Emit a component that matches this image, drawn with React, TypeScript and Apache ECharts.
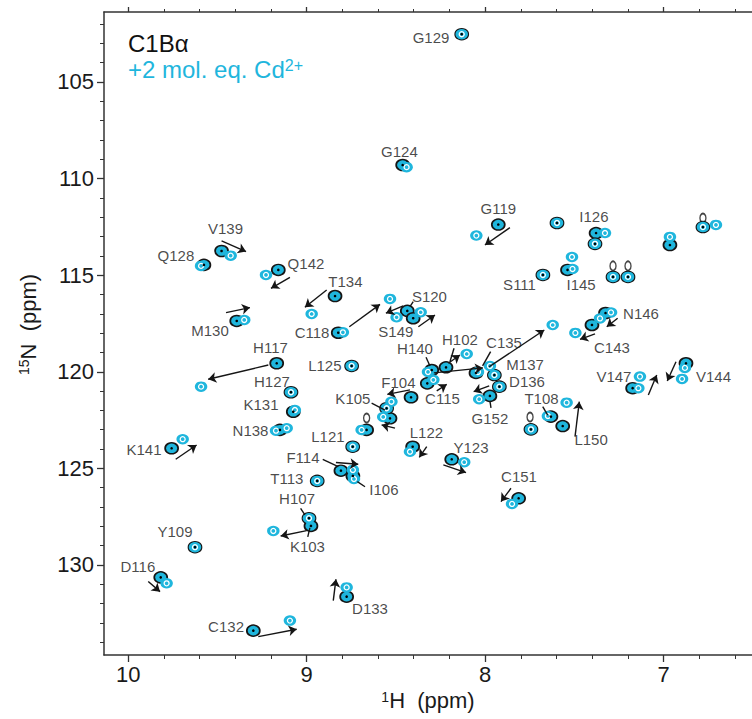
import React, { useEffect, useRef } from 'react';
import * as echarts from 'echarts';

// ---- axes ----
const X_RANGE = [6.504, 10.136];
const Y_RANGE = [101.38, 134.66];
const X_TICKS = [7, 8, 9, 10];
const Y_TICKS = [105, 110, 115, 120, 125, 130];

// ---- assigned peaks: free (black) and +Cd2+ (cyan) ----
const PEAK_NAMES = [
  'G129', 'G124', 'G119', 'I126', 'S111', 'I145', 'N146', 'C143', 'S120', 'S149',
  'H102', 'C135', 'H140', 'M137', 'D136', 'F104', 'C115', 'K105', 'G152', 'T108',
  'L150', 'V147', 'V144', 'V139', 'Q128', 'Q142', 'T134', 'M130', 'C118', 'H117',
  'L125', 'H127', 'K131', 'N138', 'K141', 'L121', 'L122', 'Y123', 'F114', 'I106',
  'T113', 'H107', 'K103', 'Y109', 'D116', 'C132', 'D133', 'C151',
  '', '', '', '', '', '', '', '', '',
];
const FREE_H = [
  8.131, 8.462, 7.926, 7.378, 7.676, 7.538, 7.325, 7.401, 8.436, 8.403,
  8.219, 8.051, 8.299, 7.948, 7.920, 8.415, 8.324, 8.533, 7.973, 7.631,
  7.565, 7.173, 6.874, 9.477, 9.576, 9.159, 8.841, 9.392, 8.823, 9.168,
  8.748, 9.088, 9.075, 9.150, 9.757, 8.742, 8.406, 8.187, 8.808, 8.741,
  8.941, 8.987, 8.976, 9.626, 9.818, 9.299, 8.776, 7.812,
  7.597, 7.384, 7.283, 7.199, 6.964, 6.779, 7.743, 8.664, 8.552,
];
const FREE_N = [
  102.53, 109.30, 112.38, 112.82, 114.99, 114.73, 116.96, 117.58, 116.85, 117.23,
  119.77, 120.06, 119.91, 120.17, 120.77, 121.32, 120.60, 122.41, 121.25, 122.32,
  122.81, 120.85, 119.56, 113.75, 114.47, 114.73, 116.08, 117.37, 117.98, 119.56,
  119.70, 121.06, 122.07, 123.01, 123.96, 123.88, 123.88, 124.53, 125.12, 125.39,
  125.65, 127.58, 127.98, 129.08, 130.64, 133.40, 131.64, 126.55,
  112.30, 113.38, 115.09, 115.09, 113.44, 112.51, 122.98, 123.01, 121.89,
];
const CD_H = [
  8.131, 8.440, 8.049, 7.328, 7.676, 7.510, 7.356, 7.494, 8.496, 8.361,
  8.103, 7.621, 7.973, 7.948, 7.920, 8.525, 8.290, 8.571, 8.033, 7.648,
  7.543, 7.132, 6.896, 9.426, 9.592, 9.228, 8.972, 9.350, 8.533, 9.592,
  8.748, 9.088, 9.066, 9.112, 9.695, 8.742, 8.421, 8.117, 8.741, 8.735,
  8.941, 8.987, 9.187, 9.626, 9.785, 9.094, 8.776, 7.849,
  7.597, 7.384, 7.283, 7.199, 6.964, 6.779, 7.743, 8.692, 8.552,
];
const CD_N = [
  102.53, 109.41, 112.95, 112.82, 114.99, 114.68, 117.24, 117.99, 117.18, 116.92,
  119.08, 117.58, 119.70, 120.17, 120.77, 121.55, 120.42, 122.34, 121.42, 122.29,
  121.60, 120.25, 120.37, 113.99, 114.52, 114.99, 117.01, 117.32, 116.23, 120.77,
  119.70, 121.06, 121.98, 122.92, 123.49, 123.88, 124.14, 124.68, 125.08, 125.55,
  125.65, 127.58, 128.24, 129.08, 130.95, 132.88, 131.16, 126.84,
  112.30, 113.38, 115.09, 115.09, 113.02, 112.51, 122.98, 123.01, 121.89,
];

// additional unassigned contours
const EXTRA_CD_H = [6.706, 7.513, 8.797, 8.320, 8.040, 9.172, 7.294, 7.141, 6.880];
const EXTRA_CD_N = [112.40, 114.06, 117.96, 120.01, 120.01, 123.05, 116.93, 120.85, 119.80];
const EXTRA_FREE_H = [7.283, 7.199, 6.779, 7.748, 8.664];
const EXTRA_FREE_N = [114.52, 114.52, 112.04, 122.34, 122.39];

// label anchors (ppm) for the assigned peaks, same order as PEAK_NAMES
const LABEL_H = [
  8.303, 8.480, 7.926, 7.390, 7.807, 7.462, 7.126, 7.289, 8.312, 8.500,
  8.141, 7.894, 8.393, 7.776, 7.765, 8.486, 8.239, 8.741, 7.973, 7.684,
  7.406, 7.278, 6.720, 9.455, 9.733, 9.004, 8.783, 9.542, 8.970, 9.203,
  8.898, 9.195, 9.256, 9.315, 9.912, 8.881, 8.329, 8.079, 9.021, 8.567,
  9.111, 9.054, 8.996, 9.738, 9.946, 9.452, 8.645, 7.810,
];
const LABEL_N = [
  102.72, 108.62, 111.55, 111.94, 115.48, 115.46, 116.96, 118.72, 116.13, 117.94,
  118.33, 118.46, 118.82, 119.65, 120.50, 120.55, 121.38, 121.37, 122.42, 121.38,
  123.53, 120.27, 120.27, 112.58, 113.99, 114.38, 115.34, 117.86, 117.98, 118.77,
  119.70, 120.53, 121.72, 123.05, 124.00, 123.36, 123.15, 123.92, 124.46, 126.12,
  125.50, 126.58, 129.07, 128.29, 130.10, 133.16, 132.23, 125.44,
];

// shift arrows [fromH, fromN, toH, toN]
const ARROWS: number[][] = [
  [9.477, 113.23, 9.340, 113.78], // V139
  [9.094, 115.11, 9.200, 115.68], // Q142
  [8.888, 115.77, 9.010, 116.66], // T134
  [9.452, 116.94, 9.318, 116.68], // M130
  [8.761, 117.67, 8.589, 116.51], // C118
  [8.459, 116.59, 8.556, 116.97], // S120
  [8.374, 117.67, 8.281, 117.06], // S149
  [9.215, 119.65, 9.552, 120.39], // H117
  [9.734, 124.53, 9.617, 123.79], // K141
  [7.861, 112.54, 8.001, 113.44], // G119
  [8.287, 120.06, 8.012, 119.80], // H140
  [7.978, 119.75, 7.668, 117.84], // C135
  [8.206, 119.56, 8.141, 119.13], // H102
  [8.271, 120.99, 8.215, 120.65], // C115
  [8.421, 120.94, 8.548, 121.17], // F104
  [7.977, 120.73, 8.064, 121.03], // G152
  [8.505, 122.92, 8.580, 122.75], // K105
  [8.327, 123.88, 8.369, 124.43], // L122
  [8.234, 124.82, 8.107, 125.22], // Y123
  [8.836, 124.70, 8.711, 124.79], // F114
  [9.000, 128.22, 9.146, 128.50], // K103
  [9.888, 130.86, 9.822, 131.38], // D116
  [9.271, 133.71, 9.056, 133.33], // C132
  [8.851, 131.85, 8.836, 130.74], // D133
  [7.855, 126.03, 7.911, 126.72], // C151
  [7.496, 123.36, 7.472, 121.55], // L150
  [7.257, 117.23, 7.318, 117.67], // N146
  [7.384, 118.04, 7.468, 118.32], // C143
  [7.085, 121.20, 7.038, 120.17], // V147
  [6.930, 119.48, 6.979, 120.48], // V144
];

// label leader lines [fromH, fromN, toH, toN]
const LEADERS: number[][] = [
  [8.910, 124.53, 8.823, 124.91], // F114
  [8.673, 125.95, 8.716, 125.69], // I106
  [9.034, 127.07, 9.010, 127.41], // H107
  [8.982, 128.08, 8.994, 128.55], // K103
  [8.636, 121.63, 8.561, 121.98], // K105
  [8.331, 119.25, 8.309, 119.70], // H140
  [8.174, 118.78, 8.197, 119.48], // H102
  [7.969, 118.96, 8.014, 119.70], // C135
  [7.967, 121.87, 7.973, 121.51], // G152
  [7.677, 121.80, 7.649, 122.24], // T108
  [8.403, 116.37, 8.421, 116.63], // S120
];

const CYAN = '#1fb6dd';
const INK = '#151515';
const FONT = '"Liberation Sans", Arial, Helvetica, sans-serif';

const pts = (hs: number[], ns: number[]) => hs.map((h, i) => [h, ns[i]]);

export default function App() {
  const ref = useRef<HTMLDivElement>(null);

  useEffect(() => {
    if (!ref.current) return;
    const chart = echarts.init(ref.current, undefined, { renderer: 'svg' });

    const freePts = pts(FREE_H, FREE_N);
    const cdPts = pts(CD_H, CD_N);
    const extraCd = pts(EXTRA_CD_H, EXTRA_CD_N);
    const extraFree = pts(EXTRA_FREE_H, EXTRA_FREE_N);
    const labels = LABEL_H.map((h, i) => ({ name: PEAK_NAMES[i], value: [h, LABEL_N[i]] }));

    const axisCommon = {
      type: 'value' as const,
      axisLine: { show: true, lineStyle: { color: '#333', width: 1.5 } },
      splitLine: { show: false },
    };

    const option: any = {
      animation: false,
      backgroundColor: '#ffffff',
      grid: { left: 104, top: 12, right: 0, bottom: 64, containLabel: false },
      xAxis: [
        {
          ...axisCommon,
          position: 'bottom',
          inverse: true,
          min: X_RANGE[0],
          max: X_RANGE[1],
          axisTick: { show: true, customValues: X_TICKS, length: 7, lineStyle: { color: '#333', width: 1.3 } },
          minorTick: { show: true, splitNumber: 5, length: 4, lineStyle: { color: '#333', width: 1 } },
          axisLabel: {
            customValues: X_TICKS,
            fontSize: 22,
            color: '#1a1a1a',
            fontFamily: FONT,
            margin: 8,
          },
          name: '{s|1}H  (ppm)',
          nameLocation: 'middle',
          nameGap: 34,
          nameTextStyle: {
            fontSize: 22,
            color: '#1a1a1a',
            fontFamily: FONT,
            rich: { s: { fontSize: 14, verticalAlign: 'top', fontFamily: FONT, color: '#1a1a1a' } },
          },
        },
        {
          ...axisCommon,
          position: 'top',
          inverse: true,
          min: X_RANGE[0],
          max: X_RANGE[1],
          axisTick: { show: true, customValues: X_TICKS, length: 5, lineStyle: { color: '#333', width: 1.3 } },
          minorTick: { show: true, splitNumber: 5, length: 3, lineStyle: { color: '#333', width: 1 } },
          axisLabel: { show: false },
        },
      ],
      yAxis: {
        ...axisCommon,
        position: 'left',
        inverse: true,
        min: Y_RANGE[0],
        max: Y_RANGE[1],
        axisTick: { show: true, customValues: Y_TICKS, length: 7, lineStyle: { color: '#333', width: 1.3 } },
        minorTick: { show: true, splitNumber: 5, length: 4, lineStyle: { color: '#333', width: 1 } },
        axisLabel: {
          customValues: Y_TICKS,
          fontSize: 22,
          color: '#1a1a1a',
          fontFamily: FONT,
          margin: 10,
        },
        name: '{s|15}N  (ppm)',
        nameLocation: 'middle',
        nameRotate: 90,
        nameGap: 65,
        nameTextStyle: {
          fontSize: 22,
          color: '#1a1a1a',
          fontFamily: FONT,
          padding: [0, 0, 0, 18],
          rich: { s: { fontSize: 14, verticalAlign: 'top', fontFamily: FONT, color: '#1a1a1a' } },
        },
      },
      graphic: [
        {
          type: 'text',
          left: 128,
          top: 31,
          style: { text: 'C1Bα', font: `24px ${FONT}`, fill: '#111' },
        },
        {
          type: 'text',
          left: 128,
          top: 57,
          style: {
            text: '{a|+2 mol. eq. Cd}{s|2+}',
            rich: {
              a: { fontSize: 24, fontFamily: FONT, fill: CYAN, color: CYAN },
              s: { fontSize: 16, fontFamily: FONT, fill: CYAN, color: CYAN, verticalAlign: 'top' },
            },
          },
        },
      ],
      series: [
        {
          name: 'free',
          type: 'scatter',
          data: freePts,
          symbol: 'circle',
          symbolSize: [13, 11],
          itemStyle: { color: CYAN, borderColor: INK, borderWidth: 1.6, opacity: 1 },
          silent: true,
          z: 2,
        },
        {
          name: 'free-extra',
          type: 'scatter',
          data: extraFree,
          symbol: 'circle',
          symbolSize: [6, 9],
          itemStyle: { color: 'rgba(0,0,0,0)', borderColor: INK, borderWidth: 1.6 },
          silent: true,
          z: 2,
        },
        {
          name: 'Cd',
          type: 'scatter',
          data: cdPts,
          symbol: 'circle',
          symbolSize: [12.5, 10.5],
          itemStyle: { color: CYAN, opacity: 1 },
          silent: true,
          z: 3,
        },
        {
          name: 'Cd-extra',
          type: 'scatter',
          data: extraCd,
          symbol: 'circle',
          symbolSize: [12.5, 10.5],
          itemStyle: { color: CYAN, opacity: 1 },
          silent: true,
          z: 3,
        },
        {
          name: 'Cd-core',
          type: 'scatter',
          data: cdPts.concat(extraCd),
          symbol: 'circle',
          symbolSize: 5,
          itemStyle: { color: CYAN, borderColor: '#ffffff', borderWidth: 1.3, opacity: 1 },
          silent: true,
          z: 4,
        },
        {
          name: 'free-core',
          type: 'scatter',
          data: freePts,
          symbol: 'circle',
          symbolSize: 2.6,
          itemStyle: { color: '#000', opacity: 1 },
          silent: true,
          z: 5,
        },
        {
          name: 'arrows',
          type: 'lines',
          coordinateSystem: 'cartesian2d',
          symbol: ['none', 'arrow'],
          symbolSize: 8,
          lineStyle: { color: INK, width: 1.4, opacity: 1, curveness: 0 },
          data: ARROWS.map((a) => ({ coords: [[a[0], a[1]], [a[2], a[3]]] })),
          silent: true,
          z: 6,
        },
        {
          name: 'leaders',
          type: 'lines',
          coordinateSystem: 'cartesian2d',
          symbol: ['none', 'none'],
          lineStyle: { color: INK, width: 1.4, opacity: 1, curveness: 0 },
          data: LEADERS.map((a) => ({ coords: [[a[0], a[1]], [a[2], a[3]]] })),
          silent: true,
          z: 6,
        },
        {
          name: 'labels',
          type: 'scatter',
          data: labels,
          symbolSize: 1,
          itemStyle: { color: 'rgba(0,0,0,0)' },
          label: {
            show: true,
            position: 'inside',
            formatter: '{b}',
            fontSize: 15,
            lineHeight: 13,
            color: '#1a1a1a',
            fontFamily: FONT,
          },
          silent: true,
          z: 7,
        },
      ],
    };

    chart.setOption(option);
    return () => chart.dispose();
  }, []);

  return (
    <div
      ref={ref}
      style={{ position: 'absolute', left: 0, top: 0, width: 752, height: 719, background: '#fff' }}
    />
  );
}
